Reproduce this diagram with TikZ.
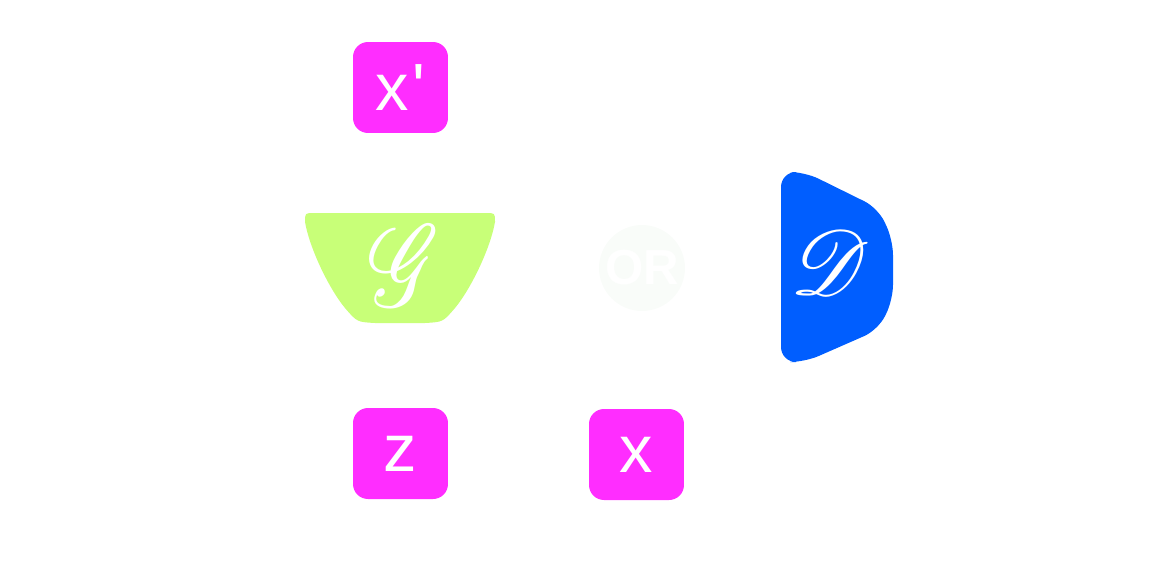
\documentclass[tikz,border=0pt]{standalone}
\usepackage{fontspec}
\usepackage{mathrsfs}
\setsansfont{Liberation Sans}
\definecolor{boxmag}{RGB}{255,45,255}
\definecolor{gen}{RGB}{200,255,120}
\definecolor{disc}{RGB}{0,94,255}
\definecolor{orfill}{RGB}{249,252,249}
\definecolor{ortext}{RGB}{255,255,255}
\tikzset{
  databox/.style={fill=boxmag, rounded corners=0.3cm, minimum width=1.9cm, minimum height=1.82cm,
    text=white, font=\sffamily\fontsize{38}{40}\selectfont, inner sep=0pt},
  scriptlabel/.style={text=white, inner sep=0pt},
  ornode/.style={circle, fill=orfill, minimum size=1.72cm, inner sep=0pt, text=ortext,
    font=\sffamily\bfseries\fontsize{28}{30}\selectfont}
}
\begin{document}
\begin{tikzpicture}[x=0.02cm,y=-0.02cm]
\useasboundingbox (0,0) rectangle (1150,586);
% data boxes
\node[databox] (xp) at (400.5,87.5) {x\kern0.05em\textquotesingle};
\node[databox] (z) at (400.5,453.5) {z};
\node[databox] (x) at (636.5,454.5) {x};
% generator
\fill[gen] (305,222) .. controls (305,213) .. (314,213) -- (486,213) .. controls (495,213) .. (495,222)
  .. controls (490,250) and (470,290) .. (455,308) .. controls (443,322) .. (425,323) -- (375,323)
  .. controls (357,322) .. (345,308) .. controls (330,290) and (310,250) .. cycle;
\node[scriptlabel] (G) at (404,266) {\scalebox{5.2}[6.6]{$\mathscr{G}$}};
% discriminator
\fill[disc, rounded corners=0.3cm] (781,172) -- (805,172) -- (878,208) -- (893,240) -- (893,300) -- (878,330) -- (805,362) -- (781,362) -- cycle;
\node[scriptlabel] (D) at (830,263) {\scalebox{5.2}{$\mathscr{D}$}};
% OR
\node[ornode] (or) at (642,268) {OR};
\end{tikzpicture}
\end{document}
